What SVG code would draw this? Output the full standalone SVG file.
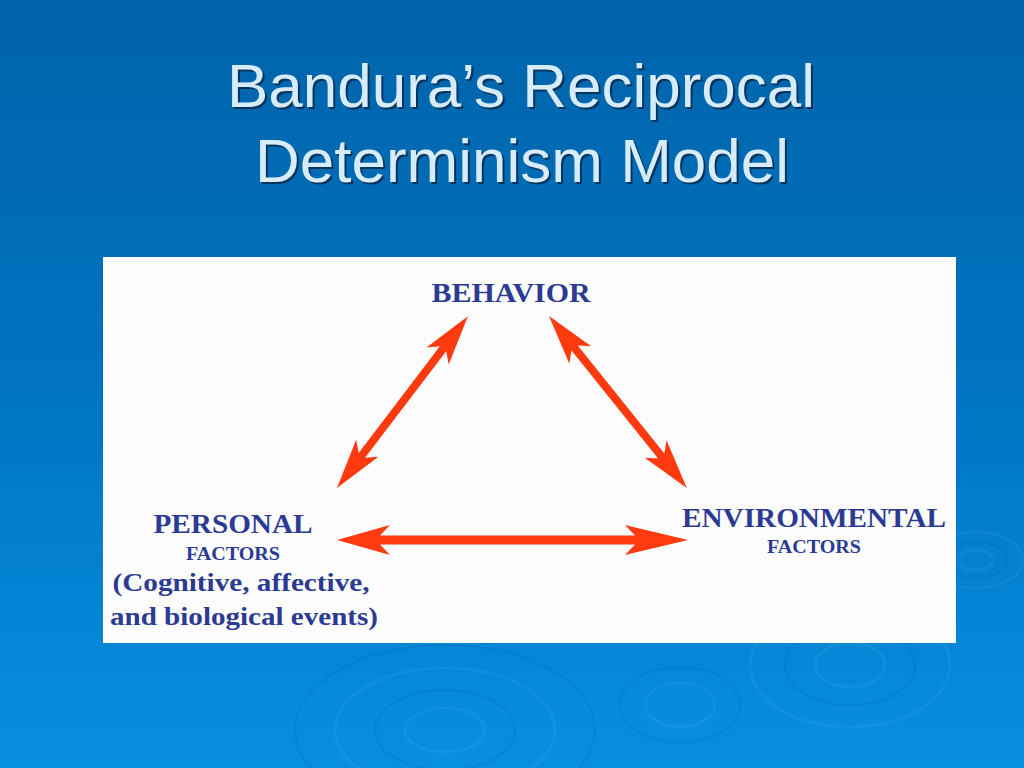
<svg xmlns="http://www.w3.org/2000/svg" width="1024" height="768" viewBox="0 0 1024 768">
<defs>
<linearGradient id="bg" x1="0" y1="0" x2="0" y2="1">
<stop offset="0" stop-color="#0063a9"/>
<stop offset="0.5" stop-color="#0074c2"/>
<stop offset="1" stop-color="#078fe2"/>
</linearGradient>
<style>
.title{font-family:"Liberation Sans",Arial,sans-serif;font-size:62px;fill:#d6ecfa;text-anchor:middle}
.shadow{fill:#0a2747;opacity:0.8}
.lbl{font-family:"Liberation Serif","Times New Roman",serif;font-weight:bold;fill:#2b3a93}
.big{font-size:28px}
.small{font-size:19px}
.mid{font-size:26px}
.arrow{fill:#ff3a0f}
.rip{fill:none;stroke:#ffffff;stroke-opacity:0.05;stroke-width:3}
.ripd{fill:none;stroke:#003a80;stroke-opacity:0.1;stroke-width:2}
</style>
</defs>
<rect x="0" y="0" width="1024" height="768" fill="url(#bg)"/>
<g id="ripples">
<ellipse class="rip" cx="445" cy="730" rx="40" ry="22"/>
<ellipse class="ripd" cx="445" cy="730" rx="70" ry="40"/>
<ellipse class="rip" cx="445" cy="730" rx="110" ry="62"/>
<ellipse class="ripd" cx="445" cy="730" rx="150" ry="85"/>
<ellipse class="rip" cx="680" cy="705" rx="35" ry="22"/>
<ellipse class="ripd" cx="680" cy="705" rx="60" ry="38"/>
<ellipse class="rip" cx="850" cy="665" rx="35" ry="22"/>
<ellipse class="ripd" cx="850" cy="665" rx="65" ry="40"/>
<ellipse class="rip" cx="850" cy="665" rx="100" ry="62"/>
<ellipse class="rip" cx="975" cy="560" rx="18" ry="10"/>
<ellipse class="ripd" cx="975" cy="560" rx="32" ry="18"/>
<ellipse class="rip" cx="975" cy="560" rx="48" ry="28"/>
</g>
<g id="title">
<text class="title shadow" x="523" y="109">Bandura’s Reciprocal</text>
<text class="title shadow" x="524" y="184">Determinism Model</text>
<text class="title" x="521" y="107">Bandura’s Reciprocal</text>
<text class="title" x="522" y="182">Determinism Model</text>
</g>
<rect id="panel" x="103" y="257" width="853" height="386" fill="#fdfdfd"/>
<g id="connectors">
<path class="arrow" transform="translate(337,540)" d="M0,0 L53,-15 L43,-4.5 L298,-4.5 L288,-15 L351,0 L288,15 L298,4.5 L43,4.5 L53,15 Z"/>
<path class="arrow" transform="translate(337,488) rotate(-52.7)" d="M0,0 L50,-14 L41,-4 L175,-4 L166,-14 L216,0 L166,14 L175,4 L41,4 L50,14 Z"/>
<path class="arrow" transform="translate(549,316) rotate(51.3)" d="M0,0 L50,-14 L41,-4 L179.5,-4 L170.5,-14 L220.5,0 L170.5,14 L179.5,4 L41,4 L50,14 Z"/>
</g>
<g id="behavior">
<text class="lbl big" x="511" y="302" text-anchor="middle" textLength="159" lengthAdjust="spacingAndGlyphs">BEHAVIOR</text>
</g>
<g id="personal">
<text class="lbl big" x="233" y="533" text-anchor="middle" textLength="159" lengthAdjust="spacingAndGlyphs">PERSONAL</text>
<text class="lbl small" x="233" y="560" text-anchor="middle" textLength="94" lengthAdjust="spacingAndGlyphs">FACTORS</text>
<text class="lbl mid" x="241" y="591" text-anchor="middle" textLength="257" lengthAdjust="spacingAndGlyphs">(Cognitive, affective,</text>
<text class="lbl mid" x="244" y="625" text-anchor="middle" textLength="268" lengthAdjust="spacingAndGlyphs">and biological events)</text>
</g>
<g id="environmental">
<text class="lbl big" x="814" y="527" text-anchor="middle" textLength="264" lengthAdjust="spacingAndGlyphs">ENVIRONMENTAL</text>
<text class="lbl small" x="814" y="553" text-anchor="middle" textLength="94" lengthAdjust="spacingAndGlyphs">FACTORS</text>
</g>
</svg>
